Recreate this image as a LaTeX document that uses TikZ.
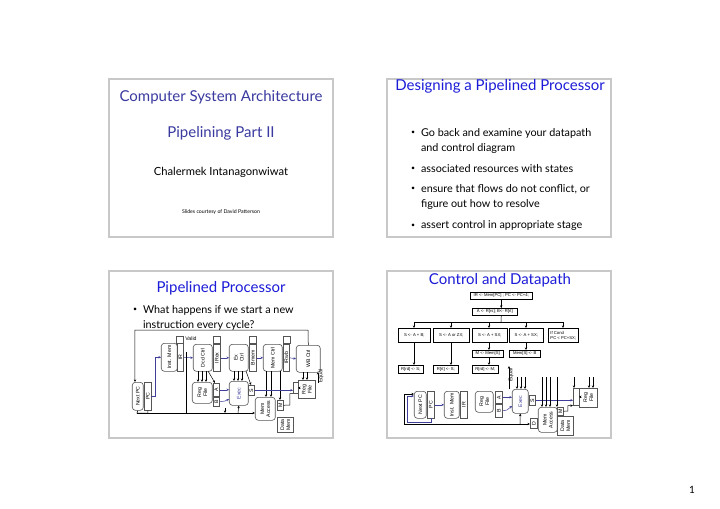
\documentclass[tikz,border=0pt]{standalone}
\usepackage{fontspec}
\setmainfont{Lato}
\newfontfamily\dfont{Liberation Sans}
\usetikzlibrary{arrows.meta}
\definecolor{frm}{HTML}{C8C8C8}
\definecolor{tb}{HTML}{1C1CD8}
\definecolor{tp}{HTML}{3A3AA0}
\definecolor{pl}{HTML}{3F3F99}
\definecolor{dg}{HTML}{555555}
\tikzset{
 slide/.style={draw=frm,line width=0.6pt},
 ttl/.style={font=\fontsize{7.5}{9}\selectfont},
 bul/.style={font=\fontsize{5.4}{6.6}\selectfont,anchor=west},
 bdot/.style={font=\fontsize{3.5}{4}\selectfont,anchor=west},
 lbl/.style={font=\dfont\fontsize{2.6}{3}\selectfont,align=center,inner sep=0},
 fl/.style={font=\dfont\fontsize{2.1}{2.5}\selectfont,align=left,inner sep=0},
 ar/.style={-{Stealth[length=1.3pt,width=1.2pt]},line width=0.25pt},
 par/.style={ar,draw=pl},
 ln/.style={line width=0.25pt},
}
\newcommand\bx[7][]{\node[draw=dg,line width=0.3pt,#1,minimum width={(#4-#2)*0.5pt},minimum height={(#5-#3)*0.5pt},inner sep=0,anchor=north west,label={[lbl,rotate=90]center:{#7}}] (#6) at (#2,#3) {};}
\newcommand\fb[6]{\node[draw=black,line width=0.3pt,minimum width={(#3-#1)*0.5pt},minimum height={(#4-#2)*0.5pt},inner sep=0,anchor=north west,label={[fl]center:{#6}}] (#5) at (#1,#2) {};}
\begin{document}
\begin{tikzpicture}[x=0.5pt,y=-0.5pt]
\useasboundingbox[fill=white] (0,0) rectangle (720,509);
% frames
\draw[slide] (109,79) rectangle (333,237);
\draw[slide] (387,79) rectangle (611,237);
\draw[slide] (109,271) rectangle (333,438);
\draw[slide] (387,271) rectangle (611,438);
\node[font=\fontsize{5}{6}\selectfont] (pg) at (692,490) {1};
% slide 1
\node[ttl,text=tp] (t1) at (221,97) {Computer System Architecture};
\node[ttl,text=tp] (t1b) at (221,133) {Pipelining Part II};
\node[font=\fontsize{5.6}{7}\selectfont] (au) at (221,172) {Chalermek Intanagonwiwat};
\node[font=\fontsize{2.6}{3}\selectfont] (sc) at (221,212) {Slides courtesy of David Patterson};
% slide 2
\node[ttl,text=tb] (t2) at (500,86) {Designing a Pipelined Processor};
\foreach \y/\t in {133/{Go back and examine your datapath},169/{associated resources with states},189/{ensure that flows do not conflict, or},226/{assert control in appropriate stage}}
  {\node[bdot] at (404,\y) {\textbullet}; \node[bul] at (414,\y) {\t};}
\node[bul] (b2a) at (414,149) {and control diagram};
\node[bul] (b2b) at (414,205) {figure out how to resolve};
% slide 3
\node[ttl,text=tb] (t3) at (221,288) {Pipelined Processor};
\node[bdot] at (126,310) {\textbullet};
\node[bul] (b3) at (136,310) {What happens if we start a new};
\node[bul] (b3b) at (136,325) {instruction every cycle?};
% slide 3 diagram
\bx[rounded corners=1.5pt]{132}{382}{143}{410}{np1}{Next PC}
\bx{144}{382}{151}{410}{pc1}{PC}
\bx[rounded corners=1.5pt]{161}{343}{177}{371}{im1}{Inst. Mem}
\bx{177}{343}{183}{371}{ir1}{IR}
\bx{176}{336}{183}{343}{v1}{}
\node[lbl,anchor=west] (val) at (185,339) {Valid};
\bx[rounded corners=1.5pt]{193}{344}{212}{371}{dc1}{Dcd Ctrl}
\bx{213}{344}{220}{371}{irex}{IRex}
\bx{213}{336}{220}{343}{v2}{}
\bx[rounded corners=1.5pt]{229}{344}{248}{371}{ec1}{Ex\\Ctrl}
\bx{249}{344}{256}{371}{bmem}{Bmem}
\bx{249}{336}{256}{343}{v3}{}
\bx[rounded corners=1.5pt]{263}{344}{282}{371}{mc1}{Mem Ctrl}
\bx{283}{344}{289}{371}{irwb}{IRwb}
\bx{283}{336}{290}{343}{v4}{}
\bx[rounded corners=1.5pt]{296}{345}{320}{372}{wb1}{WB Ctrl}
\bx[rounded corners=1.5pt]{192}{382}{212}{403}{rf1}{Reg\\File}
\bx{213}{383}{219}{396}{a1}{A}
\bx{213}{397}{219}{406}{b1}{B}
\bx[rounded corners=1.5pt]{229}{381}{248}{405}{ex1}{\textcolor{pl}{Exec}}
\bx{248}{385}{254}{395}{s1}{S}
\bx[rounded corners=1.5pt]{255}{397}{275}{420}{ma1}{Mem\\Access}
\bx{277}{400}{283}{410}{m1}{M}
\bx{277}{417}{293}{432}{dm1}{Data\\Mem}
\bx{293}{382}{298}{393}{mx1}{}
\bx{298}{380}{315}{398}{rf1b}{Reg\\File}
\node[lbl,rotate=90] (eq1) at (321,376) {Equal};
\draw[ar] (wb1.north) -- (308,330) -- (135,330) -- (135,382);
\draw[par] (151,396) -- (155,396) |- (im1.west);
\draw[par] (ir1.east) -- (dc1.west);
\draw[par] (irex.east) -- (ec1.west);
\draw[par] (bmem.east) -- (mc1.west);
\draw[par] (irwb.east) -- (wb1.west);
\foreach \x in {198,202,206} \draw[ar] (\x,371) -- (\x,382);
\draw[ar] (208,371) -- (215,383);
\foreach \x in {234,238,242} \draw[ar] (\x,371) -- (\x,381);
\draw[ar] (246,371) -- (251,385);
\foreach \x in {266,271} \draw[ar] (\x,371) -- (\x,397);
\draw[ar] (280,371) -- (280,400);
\foreach \x in {303,307} \draw[ar] (\x,372) -- (\x,380);
\draw[ar] (318,383) -- (318,372);
\draw[par] (a1.east) -- (ex1.west |- a1.east);
\draw[par] (b1.east) -- (225,401) -- (229,399);
\draw[par] (s1.east) -- (mx1.west |- s1.east);
\draw[ln] (m1.east) -- (290,405) |- (mx1.south west);
\draw[ar] (mx1.east) -- (rf1b.west |- mx1.east);
\draw[ln] (pc1.south) -- (148,413);
\draw[ln] (np1.south) -- (137,413) -- (148,413);
\draw[ar] (137,413) -- (ma1.west |- 0,413);
\draw[ln] (186,352) -- (186,413);
\draw[ar] (238,413) -- (ex1.south);
\draw[ar] (225,408) -- (225,413);
% slide 4
\node[ttl,text=tb] (t4) at (500,280) {Control and Datapath};
\fb{470}{292}{532}{299}{f0}{IR <- Mem[PC] ; PC <- PC+4;}
\fb{472}{308}{517}{315}{f1}{A <- R[rs]; B<- R[rt]}
\fb{398}{328}{430}{342}{g1}{S <- A + B;}
\fb{433}{328}{469}{342}{g2}{S <- A or ZX;}
\fb{472}{328}{507}{342}{g3}{S <- A + SX;}
\fb{509}{328}{543}{342}{g4}{S <- A + SX;}
\fb{548}{328}{578}{342}{g5}{If Cond\\PC < PC+SX;}
\fb{472}{350}{503}{357}{h3}{M <- Mem[S]}
\fb{509}{350}{540}{357}{h4}{Mem[S] <- B}
\fb{398}{365}{423}{373}{k1}{R[rd] <- S;}
\fb{433}{365}{458}{373}{k2}{R[rt] <- S;}
\fb{472}{365}{498}{373}{k3}{R[rd] <- M;}
\draw[ar] (f0.south) -- (f1.north -| f0.south);
\draw[ln] (f1.south -| f0.south) -- (501,322);
\draw[ln] (414,322) -- (563,322);
\foreach \x in {414,451,489,526,563} \draw[ar] (\x,322) -- (\x,328);
\draw[ar] (414,342) -- (414,365);
\draw[ar] (451,342) -- (451,365);
\draw[ar] (489,342) -- (489,350);
\draw[ar] (489,357) -- (489,365);
\draw[ar] (526,342) -- (526,350);
% slide 4 datapath
\bx[rounded corners=1.5pt]{414}{391}{426}{418}{np2}{Next PC}
\bx{427}{391}{434}{418}{pc2}{PC}
\bx[rounded corners=1.5pt]{444}{391}{459}{418}{im2}{Inst. Mem}
\bx{460}{391}{467}{418}{ir2}{IR}
\bx[rounded corners=1.5pt]{475}{391}{493}{412}{rf2}{Reg\\File}
\bx{495}{391}{502}{403}{a2}{A}
\bx{495}{404}{502}{417}{b2}{B}
\bx[rounded corners=1.5pt]{512}{389}{528}{413}{ex2}{\textcolor{pl}{Exec}}
\bx{529}{395}{535}{405}{s2}{S}
\bx{530}{418}{537}{428}{d2}{D}
\bx[rounded corners=1.5pt]{538}{407}{557}{432}{ma2}{Mem\\Access}
\bx{557}{407}{563}{415}{m2}{M}
\bx{557}{416}{573}{435}{dm2}{Data\\Mem}
\bx{573}{388}{579}{405}{mx2}{}
\bx{579}{388}{597}{407}{rf2b}{Reg\\File}
\node[lbl,rotate=90] (eq2) at (511,375) {Equal};
\draw[ar] (509,389) -- (509,366);
\draw[par] (pc2.east) -- (im2.west);
\draw[par] (a2.east) -- (ex2.west |- a2.east);
\draw[par] (b2.east) -- (507,410) -- (512,406);
\draw[par] (s2.east) -- (mx2.west |- s2.east);
\draw[ar] (m2.east) -- (568,411) |- (mx2.south west);
\draw[ar] (mx2.east) -- (rf2b.west |- mx2.east);
\draw[par] (431,418) -- (431,422) -- (407,422) -- (407,396) -- (np2.west |- 0,396);
\draw[ar] (404,424) -- (404,394) -- (np2.west |- 0,394);
\draw[ln] (404,424) -- (506,424);
\draw[ar] (506,424) -- (d2.west |- 0,424);
\draw[ar] (520,424) -- (ex2.south);
\foreach \x in {517,521,525} \draw[ar] (\x,377) -- (\x,389);
\foreach \x in {542,546,550,557} \draw[ar] (\x,377) -- (\x,407);
\foreach \x in {574,589,593} \draw[ar] (\x,377) -- (\x,388);
\end{tikzpicture}
\end{document}
